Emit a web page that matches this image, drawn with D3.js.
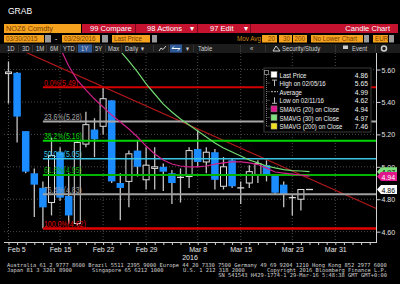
<!DOCTYPE html>
<html>
<head>
<meta charset="utf-8">
<script src="https://cdn.jsdelivr.net/npm/d3@7/dist/d3.min.js"></script>
<style>
  body { margin: 0; background: #000; }
  svg { display: block; }
  text { font-family: "Liberation Sans", Arial, sans-serif; }
  .mono { font-family: "DejaVu Sans Mono", "Liberation Mono", monospace; }
</style>
</head>
<body>
<div id="chart"></div>
<script>
// trading days on the x axis (the last ones are still empty)
var dates = ["Feb 5","Feb 8","Feb 9","Feb 10","Feb 11","Feb 12","Feb 15","Feb 16","Feb 17","Feb 18","Feb 19",
  "Feb 22","Feb 23","Feb 24","Feb 25","Feb 26","Feb 29","Mar 1","Mar 2","Mar 3","Mar 4",
  "Mar 7","Mar 8","Mar 9","Mar 10","Mar 11","Mar 14","Mar 15","Mar 16","Mar 17","Mar 18",
  "Mar 21","Mar 22","Mar 23","Mar 24","Mar 28","Mar 29","Mar 30","Mar 31","Apr 1","Apr 4","Apr 5","Apr 6","Apr 7"];

// daily candles Feb 5 .. Mar 28
var candleOpen  = [5.575,5.58,5.22,4.96,4.87,4.78,5.09,4.82,4.65,5.14,5.23,5.25,5.41,4.90,4.91,5.10,4.92,4.99,5.00,4.96,4.93,
  4.94,5.11,5.03,5.09,4.88,5.04,4.868,4.90,4.95,5.01,4.95,4.89,4.81,4.80,4.86];
var candleHigh  = [5.65,5.585,5.22,4.99,4.91,5.18,5.12,4.96,5.16,5.34,5.30,5.49,5.41,4.96,5.10,5.16,5.12,5.12,5.02,4.98,4.99,
  5.12,5.23,5.12,5.11,5.06,5.05,4.91,5.01,5.04,5.04,4.955,4.91,4.83,4.86,4.86];
var candleLow   = [5.39,5.15,4.96,4.69,4.62,4.70,4.79,4.65,4.64,5.12,5.06,5.20,4.90,4.67,4.75,4.94,4.86,4.86,4.85,4.77,4.78,
  4.87,5.00,4.96,4.86,4.86,4.87,4.77,4.87,4.90,4.91,4.83,4.75,4.70,4.73,4.86];
var candleClose = [5.585,5.31,4.97,4.89,4.75,5.07,4.81,4.70,5.15,5.26,5.17,5.42,4.91,4.87,5.08,5.00,5.01,5.00,4.97,4.90,4.935,
  5.10,5.03,5.09,4.92,5.00,4.88,4.87,4.97,5.02,4.95,4.84,4.83,4.808,4.86,4.86];

// moving averages
var sma20Start = "Feb 15";
var sma20 = [5.733,5.622,5.535,5.475,5.418,5.369,5.319,5.276,5.233,5.184,5.128,5.079,5.042,5.017,5.005,
  4.999,4.999,5.005,5.017,5.024,5.030,5.030,5.024,5.014,4.992,4.968,4.961,4.955,4.949,4.943];
var sma30Start = "Feb 23";
var sma30 = [5.77,5.714,5.652,5.585,5.511,5.449,5.387,5.338,5.295,5.258,5.221,5.184,5.147,5.116,5.091,
  5.067,5.042,5.024,5.005,4.993,4.983,4.977,4.974,4.970];

// trend line end points
var trendDates = ["Feb 5", "Apr 7"];
var trendValues = [5.754, 4.737];

// fibonacci retracement
var fibStart = "Feb 11";
var fibLevels = ["0.0%", "23.6%", "38.2%", "50.0%", "61.8%", "76.4%", "100.0%"];
var fibValues = [5.49, 5.28, 5.16, 5.05, 4.95, 4.83, 4.62];

var legendLabels = ["Last Price", "High on 02/05/16", "Average", "Low on 02/11/16",
  "SMAVG (20) on Close", "SMAVG (30) on Close", "SMAVG (200) on Close"];
var legendValues = [4.86, 5.65, 4.99, 4.62, 4.94, 4.97, 7.46];

var xTickDates = ["Feb 5", "Feb 15", "Feb 22", "Feb 29", "Mar 8", "Mar 15", "Mar 23", "Mar 31"];
var yTicks = [4.6, 4.8, 5.0, 5.2, 5.4, 5.6];

// styles
var orange = "#f5a21e", orangeText = "#7a4000", redBar = "#c4122f";
var blue = "#1a8cff", hollow = "#dcdcdc", wickColor = "#c4c4c4";
var fibColors = ["#d40000", "#a8a8a8", "#00d400", "#38c4e4", "#00b400", "#a0a0a0", "#e00000"];
var fibWidths = [2, 2, 2, 1.5, 2, 2, 2.5];
var sma20Color = "#d0208a", sma30Color = "#72d872";

var plot = {left: 4, right: 376, top: 53, bottom: 242};

var svg = d3.select("#chart").append("svg")
    .attr("width", 400)
    .attr("height", 284);

svg.append("rect").attr("width", 400).attr("height", 284).attr("fill", "#000");

function box(x0, y0, w, h, fill) {
  return svg.append("rect").attr("x", x0).attr("y", y0).attr("width", w).attr("height", h).attr("fill", fill);
}
// the terminal font is narrow, so texts get squeezed horizontally
function label(parent, x0, y0, s, fill, size, anchor, sx) {
  return parent.append("text")
    .attr("transform", "translate(" + x0 + "," + y0 + ") scale(" + (sx || 1) + ",1)")
    .text(s)
    .attr("fill", fill).style("font-size", size + "px").attr("text-anchor", anchor || "start");
}

// ---- header ----
label(svg, 8, 13.5, "GRAB", "#fff", 8.5);

// row 1
box(4, 24, 77, 9, orange);
label(svg, 6, 31.3, "NOZ6 Comdty", orangeText, 8, "start", 0.92);
box(82, 24, 316, 9, redBar);
[135, 197, 250].forEach(function(sx) { box(sx, 24, 1, 9, "#7a0a1c"); });
label(svg, 90, 31.3, "99 Compare", "#fff", 8, "start", 0.95);
label(svg, 147, 31.3, "98 Actions", "#fff", 8, "start", 0.95);
label(svg, 190, 31.3, "\u25BE", "#fff", 8);
label(svg, 210, 31.3, "97 Edit", "#fff", 8, "start", 0.95);
label(svg, 244, 31.3, "\u25BE", "#fff", 8);
label(svg, 390, 31.3, "Candle Chart", "#fff", 8, "end", 0.95);

// row 2
box(4, 35, 40, 7.5, orange);   label(svg, 6, 41.3, "03/30/2015", orangeText, 7, "start", 0.9);
box(45, 35, 6, 7.5, "#9a9a9a");
label(svg, 55, 41.3, "-", "#fff", 7);
box(62, 35, 38, 7.5, orange);  label(svg, 64, 41.3, "03/29/2016", orangeText, 7, "start", 0.9);
box(102, 35, 6, 7.5, "#9a9a9a");
box(112, 35, 38, 7.5, orange); label(svg, 114, 41.3, "Last Price", orangeText, 7, "start", 0.9);
box(152, 35, 5, 7.5, "#9a9a9a");
label(svg, 237, 41.3, "Mov Avg", "#d08a10", 7, "start", 0.9);
box(262, 35, 15, 7.5, orange); label(svg, 275, 41.3, "20", orangeText, 7, "end", 0.9);
box(279, 35, 13, 7.5, orange); label(svg, 290, 41.3, "30", orangeText, 7, "end", 0.9);
box(293, 35, 14, 7.5, orange); label(svg, 305, 41.3, "200", orangeText, 7, "end", 0.9);
box(311, 35, 52, 7.5, orange); label(svg, 313, 41.3, "No Lower Chart", orangeText, 7, "start", 0.9);
box(364, 35, 5, 7.5, "#9a9a9a");
box(373, 35, 15, 7.5, orange); label(svg, 375, 41.3, "EUR", orangeText, 7, "start", 0.9);
box(389, 35, 5, 7.5, "#9a9a9a");

// row 3 toolbar
box(0, 44, 400, 9, "#1c1c1c");
box(78, 44.5, 14, 8, "#2f5a9a");
box(170, 44.5, 12, 8, "#2f5a9a");
[18, 32, 46, 60, 76, 93, 105, 121, 153, 168, 193, 240, 265, 335, 375].forEach(function(sx) {
  box(sx, 45, 0.8, 7, "#3a3a3a");
});
[["1D", 7], ["3D", 22], ["1M", 36], ["6M", 50], ["YTD", 63], ["1Y", 81], ["5Y", 95], ["Max", 108],
 ["Daily", 125], ["\u25BE", 141], ["\u25BE", 186], ["Table", 198], ["\u00AB", 250],
 ["Security/Study", 282], ["Event", 352]].forEach(function(b) {
  label(svg, b[1], 51, b[0], "#cfcfcf", 7, "start", 0.85);
});
svg.append("polyline").attr("points", "159,51 161,48 163,49.5 166,46")
  .attr("fill", "none").attr("stroke", "#cfcfcf").attr("stroke-width", 1);
svg.append("path").attr("d", "M172,48.5 L180,48.5 M172,48.5 L174,46.5 M180,48.5 L178,50.5")
  .attr("stroke", "#fff").attr("stroke-width", 1);
svg.append("path").attr("d", "M273,51 L276,46 L280,51 Z").attr("fill", "none").attr("stroke", "#cfcfcf");
svg.append("path").attr("d", "M343,52 L343,45.5 L348,45.5 L348,49 L343,49").attr("fill", "#cfcfcf");
svg.append("circle").attr("cx", 384).attr("cy", 48.5).attr("r", 2.5)
  .attr("fill", "none").attr("stroke", "#cfcfcf").attr("stroke-width", 1.5);

// ---- scales ----
var x = d3.scalePoint().domain(dates).range([8.5, 8.5 + (dates.length - 1) * 8.6]);
var y = d3.scaleLinear().domain([4.53, 5.702]).range([243, 53]);

svg.append("clipPath").attr("id", "plotclip")
  .append("rect").attr("x", plot.left).attr("y", plot.top)
  .attr("width", plot.right - plot.left).attr("height", plot.bottom - plot.top);

var g = svg.append("g").attr("clip-path", "url(#plotclip)");

// dotted grid
g.selectAll(".vgrid").data(xTickDates).enter().append("line")
  .attr("x1", function(d) { return x(d); }).attr("x2", function(d) { return x(d); })
  .attr("y1", plot.top).attr("y2", plot.bottom)
  .attr("stroke", "#4a4a4a").attr("stroke-dasharray", "1,2");
g.selectAll(".hgrid").data(yTicks).enter().append("line")
  .attr("x1", plot.left).attr("x2", plot.right)
  .attr("y1", function(d) { return y(d); }).attr("y2", function(d) { return y(d); })
  .attr("stroke", "#4a4a4a").attr("stroke-dasharray", "1,2");

// candles
var candles = candleOpen.map(function(o, i) {
  return {date: dates[i], open: o, high: candleHigh[i], low: candleLow[i], close: candleClose[i]};
});

g.selectAll(".wick").data(candles).enter().append("line")
  .attr("x1", function(d) { return x(d.date); }).attr("x2", function(d) { return x(d.date); })
  .attr("y1", function(d) { return y(d.high); }).attr("y2", function(d) { return y(d.low); })
  .attr("stroke", wickColor).attr("stroke-width", 1.3);

candles.forEach(function(d) {
  var cx = x(d.date);
  var top = y(Math.max(d.open, d.close)), bot = y(Math.min(d.open, d.close));
  if (bot - top < 1.2) {
    g.append("line").attr("x1", cx - 3.5).attr("x2", cx + 3.5).attr("y1", top).attr("y2", top)
      .attr("stroke", hollow).attr("stroke-width", 1.3);
  } else if (d.close < d.open) {
    g.append("rect").attr("x", cx - 3.75).attr("width", 7.5).attr("y", top).attr("height", bot - top)
      .attr("fill", blue);
  } else {
    g.append("rect").attr("x", cx - 3).attr("width", 6).attr("y", top).attr("height", bot - top)
      .attr("fill", "#000").attr("stroke", hollow).attr("stroke-width", 1);
  }
});

// trend line
g.append("line")
  .attr("x1", x(trendDates[0])).attr("y1", y(trendValues[0]))
  .attr("x2", x(trendDates[1])).attr("y2", y(trendValues[1]))
  .attr("stroke", "#b01818").attr("stroke-width", 1.2);

// fibonacci lines and labels
fibValues.forEach(function(v, i) {
  g.append("line").attr("x1", x(fibStart)).attr("x2", plot.right)
    .attr("y1", y(v)).attr("y2", y(v))
    .attr("stroke", fibColors[i]).attr("stroke-width", fibWidths[i]);
  label(g, x(fibStart) + 1, y(v) - 1.8, fibLevels[i] + "(" + v.toFixed(2) + ")", fibColors[i], 8.5, "start", 0.82);
});

// moving averages
function maLine(startDate) {
  var s = dates.indexOf(startDate);
  return d3.line()
    .x(function(d, i) { return x(dates[s + i]); })
    .y(function(d) { return y(d); });
}
g.append("path").attr("d", maLine(sma30Start)(sma30))
  .attr("fill", "none").attr("stroke", sma30Color).attr("stroke-width", 1.2);
g.append("path").attr("d", maLine(sma20Start)(sma20))
  .attr("fill", "none").attr("stroke", sma20Color).attr("stroke-width", 1.2);

// ---- axes ----
svg.append("line").attr("x1", plot.right + 0.5).attr("x2", plot.right + 0.5)
  .attr("y1", plot.top).attr("y2", plot.bottom + 1)
  .attr("stroke", "#d0d0d0");
var yAxis = svg.append("g").attr("transform", "translate(" + (plot.right + 0.5) + ",0)")
  .call(d3.axisRight(y).tickValues(yTicks).tickSize(4).tickPadding(1).tickFormat(d3.format(".2f")));
yAxis.select(".domain").remove();
yAxis.selectAll("line").attr("stroke", "#d0d0d0");
yAxis.selectAll("text").attr("fill", "#e0e0e0").style("font-size", "8px")
  .attr("x", 5 / 0.88).attr("transform", "scale(0.88,1)");

svg.append("line").attr("x1", plot.left).attr("x2", plot.right + 1)
  .attr("y1", plot.bottom + 0.5).attr("y2", plot.bottom + 0.5)
  .attr("stroke", "#d0d0d0");
var xAxis = svg.append("g").attr("transform", "translate(0," + (plot.bottom + 0.5) + ")")
  .call(d3.axisBottom(x)
    .tickValues(dates.filter(function(d) { return x(d) < plot.right; }))
    .tickSize(2.5).tickPadding(1.5)
    .tickFormat(function(d) { return xTickDates.indexOf(d) >= 0 ? d : ""; }));
xAxis.select(".domain").remove();
xAxis.selectAll("line").attr("stroke", "#d0d0d0");
xAxis.selectAll("text").attr("fill", "#e8e8e8").style("font-size", "8px").attr("transform", "scale(0.88,1)");
xAxis.selectAll("text").filter(function(d) { return d === xTickDates[0]; })
  .attr("text-anchor", "start").attr("dx", -1.5);
label(svg, 190, 260, "2016", "#e8e8e8", 8, "middle", 0.88);

// price tags on the axis: SMA30, SMA20, last price
[[legendValues[5], "#7ee07e", "#000"], [legendValues[4], "#e0168c", "#fff"], [legendValues[0], "#fff", "#000"]]
  .forEach(function(t) {
    var ty = y(t[0]);
    svg.append("path")
      .attr("d", "M" + (plot.right + 1) + "," + ty + " L" + (plot.right + 5) + "," + (ty - 4.5) +
        " L397," + (ty - 4.5) + " L397," + (ty + 4.5) + " L" + (plot.right + 5) + "," + (ty + 4.5) + " Z")
      .attr("fill", t[1]);
    label(svg, plot.right + 5.5, ty + 3, t[0].toFixed(2), t[2], 8, "start", 0.88);
  });

// ---- legend ----
var lg = svg.append("g");
lg.append("rect").attr("x", 264).attr("y", 68).attr("width", 107).attr("height", 64)
  .attr("fill", "#000").attr("stroke", "#3a3a3a");
var rowY = function(i) { return 74.5 + i * 8.6; };
lg.append("rect").attr("x", 264.5).attr("y", 70.5).attr("width", 4).attr("height", 4)
  .attr("fill", "none").attr("stroke", "#999").attr("stroke-width", 0.8);
lg.append("line").attr("x1", 266.5).attr("x2", 266.5).attr("y1", 75).attr("y2", rowY(6))
  .attr("stroke", "#777").attr("stroke-dasharray", "1,1");
var swatch = ["#ffffff", null, null, null, "#e0168c", "#7ee07e", "#f0e020"];
legendLabels.forEach(function(s, i) {
  var ry = rowY(i);
  lg.append("line").attr("x1", 266.5).attr("x2", 270).attr("y1", ry).attr("y2", ry)
    .attr("stroke", "#777").attr("stroke-dasharray", "1,1");
  if (swatch[i]) {
    lg.append("rect").attr("x", 271).attr("y", ry - 3).attr("width", 6).attr("height", 6)
      .attr("fill", swatch[i]).attr("stroke", "#888").attr("stroke-width", 0.5);
  } else if (i === 1) {
    lg.append("path").attr("d", "M272," + (ry - 3) + " L277," + (ry - 3) + " M274.5," + (ry - 3) + " L274.5," + (ry + 3))
      .attr("stroke", "#bbb").attr("stroke-width", 1);
  } else if (i === 2) {
    lg.append("path").attr("d", "M271," + ry + " L278," + ry).attr("stroke", "#bbb").attr("stroke-width", 1)
      .attr("stroke-dasharray", "2,1");
  } else {
    lg.append("path").attr("d", "M274.5," + (ry - 3) + " L274.5," + (ry + 3) + " M272," + (ry + 3) + " L277," + (ry + 3))
      .attr("stroke", "#bbb").attr("stroke-width", 1);
  }
  label(lg, 279.5, ry + 3, s, "#f0f0f0", 8, "start", 0.76);
  label(lg, 368, ry + 3, legendValues[i].toFixed(2), "#f0f0f0", 8, "end", 0.85);
});

// ---- footer ----
var foot = "#d0d0d0";
label(svg, 7, 266.7, "Australia 61 2 9777 8600 Brazil 5511 2395 9000 Europe 44 20 7330 7500 Germany 49 69 9204 1210 Hong Kong 852 2977 6000", foot, 5.4).attr("class", "mono");
label(svg, 7, 271.8, "Japan 81 3 3201 8900", foot, 5.4).attr("class", "mono");
label(svg, 92, 271.8, "Singapore 65 6212 1000", foot, 5.4).attr("class", "mono");
label(svg, 183, 271.8, "U.S. 1 212 318 2000", foot, 5.4).attr("class", "mono");
label(svg, 387, 271.8, "Copyright 2016 Bloomberg Finance L.P.", foot, 5.4, "end").attr("class", "mono");
label(svg, 387, 277.3, "SN 541543 H429-1774-1 29-Mar-16  5:48:38 GMT  GMT+0:00", foot, 5.4, "end").attr("class", "mono");
</script>
</body>
</html>
